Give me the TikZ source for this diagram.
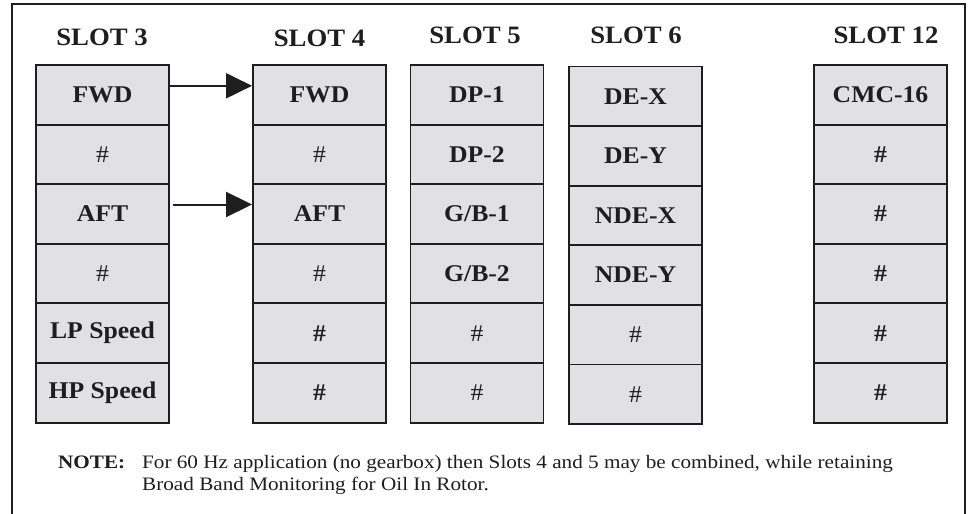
\documentclass[tikz,border=0pt]{standalone}
\usepackage{fontspec}
\setmainfont[FakeStretch=1.07]{Liberation Serif}
\newfontfamily\notefont[FakeStretch=1.115]{Liberation Serif}
\usetikzlibrary{arrows.meta}
\definecolor{cellgray}{HTML}{E1E1E3}
\definecolor{ink}{HTML}{1E1E1E}
\begin{document}
\begin{tikzpicture}[x=1pt,y=-1pt,
  cell/.style={draw=ink, line width=1.9pt, fill=cellgray, text=ink,
    minimum width=133pt, minimum height=59.6pt, inner sep=0pt,
    font=\fontsize{24}{28}\selectfont\bfseries},
  head/.style={text=ink, inner sep=0pt, font=\fontsize{25}{29}\selectfont\bfseries},
  arr/.style={draw=ink, line width=2pt, -{Triangle[length=26pt,width=25pt]}},
  notetxt/.style={text=ink, inner sep=0pt, font=\notefont\fontsize{19}{22}\selectfont}
]
\useasboundingbox (0,0) rectangle (970,514);
% frame (open at the bottom)
\draw[ink, line width=2.6pt] (12,520) -- (12,4) -- (965,4) -- (965,520);
\newcommand{\hh}{{\mdseries\#}}
\newcommand{\hb}{\#}
% columns
\foreach \t [count=\i] in {FWD,\hh,AFT,\hh,LP Speed,HP Speed}
  \node[cell] (s3r\i) at (102.5,{94.8+(\i-1)*59.6}) {\t};
\foreach \t [count=\i] in {FWD,\hh,AFT,\hh,\hb,\hb}
  \node[cell] (s4r\i) at (319.5,{94.8+(\i-1)*59.6}) {\t};
\foreach \t [count=\i] in {DP-1,DP-2,G/B-1,G/B-2,\hh,\hh}
  \node[cell] (s5r\i) at (477,{94.8+(\i-1)*59.6}) {\t};
\foreach \t [count=\i] in {DE-X,DE-Y,NDE-X,NDE-Y,\hh,\hh}
  \node[cell] (s6r\i) at (635.5,{96.3+(\i-1)*59.6}) {\t};
\foreach \t [count=\i] in {CMC-16,\hb,\hb,\hb,\hb,\hb}
  \node[cell] (s12r\i) at (880.5,{94.8+(\i-1)*59.6}) {\t};
% headers
\node[head] (h3) at (102,37) {SLOT 3};
\node[head] (h4) at (319.5,38) {SLOT 4};
\node[head] (h5) at (475,35) {SLOT 5};
\node[head] (h6) at (636,35) {SLOT 6};
\node[head] (h12) at (886,35) {SLOT 12};
% arrows
\draw[arr] ([yshift=9pt]s3r1.east) -- ([yshift=9pt]s4r1.west);
\draw[arr] ([xshift=3pt,yshift=9.5pt]s3r3.east) -- ([yshift=9.5pt]s4r3.west);
% note
\node[notetxt, anchor=base west] (notelabel) at (58,468) {\textbf{NOTE:}};
\node[notetxt, anchor=base west] (note1) at (142,468) {For 60 Hz application (no gearbox) then Slots 4 and 5 may be combined, while retaining};
\node[notetxt, anchor=base west] (note2) at (142,490) {Broad Band Monitoring for Oil In Rotor.};
\end{tikzpicture}
\end{document}
